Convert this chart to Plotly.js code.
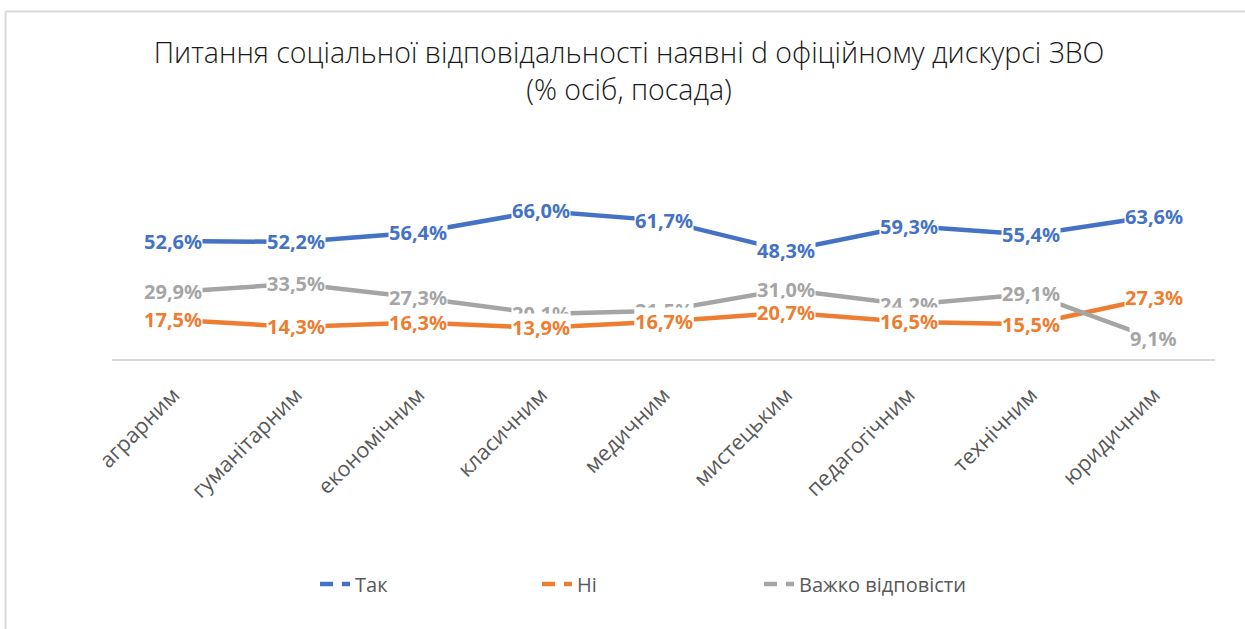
<!DOCTYPE html>
<html>
<head>
<meta charset="utf-8">
<script src="https://cdn.plot.ly/plotly-3.0.1.min.js"></script>
<style>html,body{margin:0;padding:0;background:#fff;}#chart{width:1245px;height:629px;}</style>
</head>
<body>
<div id="chart"></div>
<script>
const categories = ["аграрним","гуманітарним","економічним","класичним","медичним","мистецьким","педагогічним","технічним","юридичним"];
const seriesNames = ["Так","Ні","Важко відповісти"];
const yesValues = [52.6,52.2,56.4,66.0,61.7,48.3,59.3,55.4,63.6];
const noValues = [17.5,14.3,16.3,13.9,16.7,20.7,16.5,15.5,27.3];
const hardValues = [29.9,33.5,27.3,20.1,21.5,31.0,24.2,29.1,9.1];
const titleText = "Питання соціальної відповідальності наявні d офіційному дискурсі ЗВО<br>(% осіб, посада)";

const colors = ["#4472C4","#ED7D31","#A5A5A5"];
const allValues = [yesValues, noValues, hardValues];

const traces = [];
allValues.forEach((vals, i) => {
  traces.push({
    type: "scatter", mode: "lines", x: categories, y: vals, name: seriesNames[i],
    line: {color: colors[i], width: 4.5}, showlegend: false, hoverinfo: "skip"
  });
});
// legend-only entries with dashed symbol look
allValues.forEach((vals, i) => {
  traces.push({
    type: "scatter", mode: "lines", x: [null], y: [null], name: seriesNames[i],
    line: {color: colors[i], width: 4.5, dash: "13px,9px"}, showlegend: true
  });
});

const fmt = v => v.toFixed(1).replace(".", ",") + "%";
const labelFont = {family: "'Noto Sans', 'Open Sans', sans-serif", size: 20, weight: 700};
const annotations = [];
[0, 2, 1].forEach(si => {
  allValues[si].forEach((v, j) => {
    annotations.push({
      x: categories[j], y: v, xref: "x", yref: "y", text: fmt(v), showarrow: false,
      font: Object.assign({color: colors[si]}, labelFont), bgcolor: "#ffffff", borderpad: 0
    });
  });
});

const plotLeft = 112, plotRight = 1215, plotTop = 202, plotBottom = 359;
const pw = plotRight - plotLeft, ph = plotBottom - plotTop;
const shapes = [
  {type: "line", xref: "paper", yref: "paper", x0: (5.5 - plotLeft) / pw, x1: (5.5 - plotLeft) / pw, y0: (plotBottom - 11.5) / ph, y1: (plotBottom - 640) / ph, line: {color: "#d9d9d9", width: 2}},
  {type: "line", xref: "paper", yref: "paper", x0: (5.5 - plotLeft) / pw, x1: (1245 - plotLeft) / pw, y0: (plotBottom - 11.5) / ph, y1: (plotBottom - 11.5) / ph, line: {color: "#d9d9d9", width: 2}}
];

const layout = {
  width: 1245, height: 629,
  margin: {l: plotLeft, r: 1245 - plotRight, t: plotTop, b: 629 - plotBottom},
  paper_bgcolor: "#ffffff", plot_bgcolor: "#ffffff",
  title: {
    text: titleText, xref: "container", yref: "container", x: 629 / 1245, xanchor: "center",
    y: 1 - 63 / 629, yanchor: "top",
    font: {family: "'Open Sans', 'Noto Sans', sans-serif", size: 28.5, weight: 300, color: "#1a1a1a"}
  },
  xaxis: {
    type: "category", range: [-0.5, 8.5], showline: true, linecolor: "#d9d9d9", linewidth: 2,
    showgrid: false, zeroline: false, ticks: "", tickangle: -45, ticklabelstandoff: 13,
    tickfont: {family: "'Open Sans', 'Noto Sans', sans-serif", size: 21.5, color: "#595959"}, fixedrange: true
  },
  yaxis: {range: [0, 70], showticklabels: false, showgrid: false, zeroline: false, showline: false, fixedrange: true},
  showlegend: true,
  legend: {
    orientation: "h", x: (315 - plotLeft) / pw, xanchor: "left", y: (plotBottom - 584) / ph, yanchor: "middle",
    entrywidth: 177, entrywidthmode: "pixels",
    font: {family: "'Open Sans', 'Noto Sans', sans-serif", size: 20, color: "#595959"}, bgcolor: "rgba(0,0,0,0)"
  },
  annotations: annotations,
  shapes: shapes
};

Plotly.newPlot("chart", traces, layout, {displayModeBar: false, staticPlot: true});
</script>
</body>
</html>
